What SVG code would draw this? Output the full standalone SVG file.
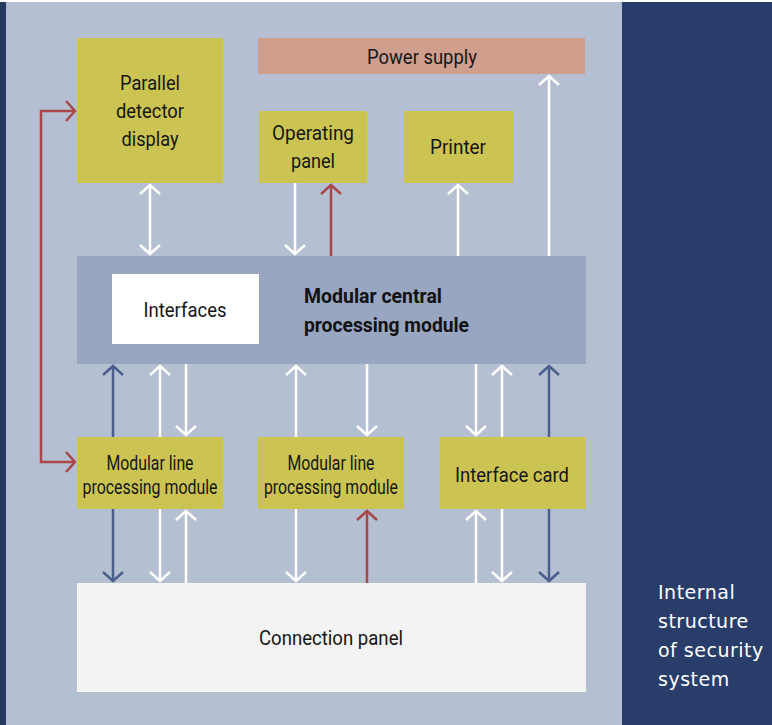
<svg xmlns="http://www.w3.org/2000/svg" width="772" height="725" viewBox="0 0 772 725">
<style>
.box{fill:#cbc453}
.t{font-family:Roboto,"Liberation Sans",sans-serif;font-size:20px;fill:#161616;text-anchor:middle}
.b{font-family:Roboto,"Liberation Sans",sans-serif;font-size:20px;font-weight:bold;fill:#111}
.side{font-family:"DejaVu Sans",Verdana,sans-serif;font-size:19px;fill:#ffffff;letter-spacing:0.5px}
.w{stroke:#ffffff;stroke-width:2.5;fill:none}
.r{stroke:#a84848;stroke-width:2.5;fill:none}
.u{stroke:#4a5f8c;stroke-width:2.5;fill:none}
</style>
<defs>
<marker id="mw" viewBox="-12 -12 24 24" markerWidth="24" markerHeight="24" refX="0" refY="0" orient="auto-start-reverse" markerUnits="userSpaceOnUse"><path d="M-9,-10 L0,0 L-9,10" fill="none" stroke="#ffffff" stroke-width="2.5"/></marker>
<marker id="mr" viewBox="-12 -12 24 24" markerWidth="24" markerHeight="24" refX="0" refY="0" orient="auto-start-reverse" markerUnits="userSpaceOnUse"><path d="M-9,-10 L0,0 L-9,10" fill="none" stroke="#a84848" stroke-width="2.5"/></marker>
<marker id="mu" viewBox="-12 -12 24 24" markerWidth="24" markerHeight="24" refX="0" refY="0" orient="auto-start-reverse" markerUnits="userSpaceOnUse"><path d="M-9,-10 L0,0 L-9,10" fill="none" stroke="#4a5f8c" stroke-width="2.5"/></marker>
</defs>
<rect x="0" y="0" width="772" height="725" fill="#ffffff"/>
<rect x="0" y="2" width="6" height="723" fill="#26395f"/>
<rect x="6" y="2" width="616" height="723" fill="#b4bfd2"/>
<rect x="622" y="2" width="150" height="723" fill="#293d6a"/>
<g id="caption">
<text class="side" x="658" y="599">Internal</text>
<text class="side" x="658" y="628">structure</text>
<text class="side" x="658" y="657">of security</text>
<text class="side" x="658" y="686">system</text>
</g>
<g id="connectors">
<line class="w" x1="150" y1="185" x2="150" y2="254" marker-start="url(#mw)" marker-end="url(#mw)"/>
<line class="w" x1="295" y1="183" x2="295" y2="254" marker-end="url(#mw)"/>
<line class="r" x1="331" y1="256" x2="331" y2="185" marker-end="url(#mr)"/>
<line class="w" x1="458" y1="256" x2="458" y2="185" marker-end="url(#mw)"/>
<line class="w" x1="549" y1="256" x2="549" y2="76" marker-end="url(#mw)"/>
<path class="r" d="M75,111 H41 V462 H75" marker-start="url(#mr)" marker-end="url(#mr)"/>
<line class="u" x1="113" y1="366" x2="113" y2="581" marker-start="url(#mu)" marker-end="url(#mu)"/>
<line class="w" x1="160" y1="366" x2="160" y2="581" marker-start="url(#mw)" marker-end="url(#mw)"/>
<line class="w" x1="186" y1="364" x2="186" y2="435" marker-end="url(#mw)"/>
<line class="w" x1="186" y1="583" x2="186" y2="511" marker-end="url(#mw)"/>
<line class="w" x1="296" y1="366" x2="296" y2="581" marker-start="url(#mw)" marker-end="url(#mw)"/>
<line class="w" x1="367" y1="364" x2="367" y2="435" marker-end="url(#mw)"/>
<line class="r" x1="367" y1="583" x2="367" y2="511" marker-end="url(#mr)"/>
<line class="w" x1="476" y1="364" x2="476" y2="435" marker-end="url(#mw)"/>
<line class="w" x1="476" y1="583" x2="476" y2="511" marker-end="url(#mw)"/>
<line class="w" x1="502" y1="366" x2="502" y2="581" marker-start="url(#mw)" marker-end="url(#mw)"/>
<line class="u" x1="549" y1="366" x2="549" y2="581" marker-start="url(#mu)" marker-end="url(#mu)"/>
</g>
<g id="parallel-display">
<rect class="box" x="77" y="38" width="146" height="145"/>
<text class="t" x="150" y="90" textLength="60" lengthAdjust="spacingAndGlyphs">Parallel</text>
<text class="t" x="150" y="118" textLength="68" lengthAdjust="spacingAndGlyphs">detector</text>
<text class="t" x="150" y="146" textLength="57" lengthAdjust="spacingAndGlyphs">display</text>
</g>
<g id="power-supply">
<rect x="258" y="38" width="327" height="36" fill="#cf9e8d"/>
<text class="t" x="422" y="64" textLength="110" lengthAdjust="spacingAndGlyphs">Power supply</text>
</g>
<g id="operating-panel">
<rect class="box" x="259" y="111" width="108" height="72"/>
<text class="t" x="313" y="140" textLength="82" lengthAdjust="spacingAndGlyphs">Operating</text>
<text class="t" x="313" y="168" textLength="44" lengthAdjust="spacingAndGlyphs">panel</text>
</g>
<g id="printer">
<rect class="box" x="404" y="111" width="109" height="72"/>
<text class="t" x="458" y="154" textLength="56" lengthAdjust="spacingAndGlyphs">Printer</text>
</g>
<g id="central-module">
<rect x="77" y="256" width="509" height="108" fill="#98a6c1"/>
<rect x="112" y="274" width="147" height="70" fill="#ffffff"/>
<text class="t" x="185" y="317" textLength="83" lengthAdjust="spacingAndGlyphs">Interfaces</text>
<text class="b" x="304" y="303" textLength="138" lengthAdjust="spacingAndGlyphs">Modular central</text>
<text class="b" x="304" y="332" textLength="165" lengthAdjust="spacingAndGlyphs">processing module</text>
</g>
<g id="line-module-1">
<rect class="box" x="77" y="437" width="146" height="72"/>
<text class="t" x="150" y="470" font-size="19" textLength="87" lengthAdjust="spacingAndGlyphs">Modular line</text>
<text class="t" x="150" y="494" font-size="19" textLength="135" lengthAdjust="spacingAndGlyphs">processing module</text>
</g>
<g id="line-module-2">
<rect class="box" x="258" y="437" width="146" height="72"/>
<text class="t" x="331" y="470" font-size="19" textLength="87" lengthAdjust="spacingAndGlyphs">Modular line</text>
<text class="t" x="331" y="494" font-size="19" textLength="134" lengthAdjust="spacingAndGlyphs">processing module</text>
</g>
<g id="interface-card">
<rect class="box" x="440" y="437" width="146" height="72"/>
<text class="t" x="512" y="482" textLength="114" lengthAdjust="spacingAndGlyphs">Interface card</text>
</g>
<g id="connection-panel">
<rect x="77" y="583" width="509" height="109" fill="#f3f3f3"/>
<text class="t" x="331" y="645" textLength="144" lengthAdjust="spacingAndGlyphs">Connection panel</text>
</g>
</svg>
